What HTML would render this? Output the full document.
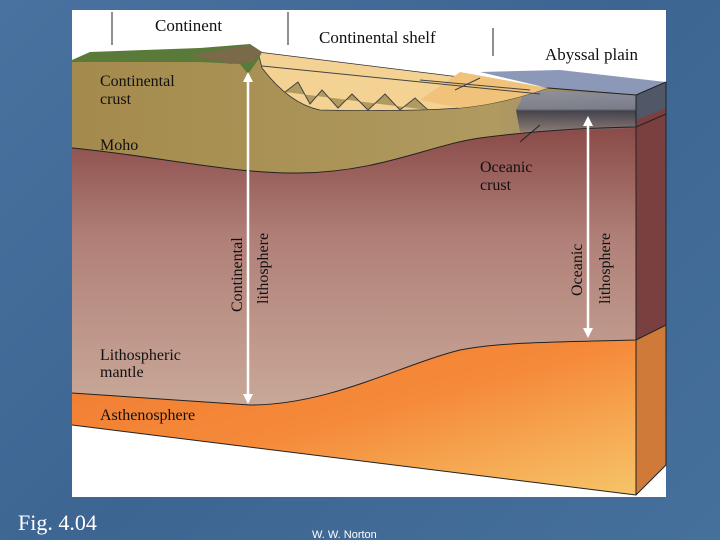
<!DOCTYPE html>
<html><head><style>
html,body{margin:0;padding:0;}
body{width:720px;height:540px;overflow:hidden;background:linear-gradient(135deg,#4a72a0,#3d6592 50%,#46709c);font-family:"Liberation Serif",serif;}
</style></head><body>
<svg width="720" height="540" viewBox="0 0 720 540" xmlns="http://www.w3.org/2000/svg" style="position:absolute;left:0;top:0">
<defs>
<linearGradient id="ast" x1="0" y1="0" x2="1" y2="1">
<stop offset="0" stop-color="#f07a30"/><stop offset="0.5" stop-color="#f58a3a"/><stop offset="1" stop-color="#f6c468"/></linearGradient>
<linearGradient id="man" x1="0" y1="0" x2="0" y2="1">
<stop offset="0" stop-color="#8a4a48"/><stop offset="0.4" stop-color="#b08078"/><stop offset="1" stop-color="#c9a898"/></linearGradient>
<linearGradient id="crust" x1="0" y1="0" x2="1" y2="0">
<stop offset="0" stop-color="#a48a4c"/><stop offset="0.75" stop-color="#b09a60"/><stop offset="0.82" stop-color="#a89468"/><stop offset="1" stop-color="#7a7470"/></linearGradient>
<linearGradient id="oc" x1="0" y1="0" x2="0" y2="1">
<stop offset="0" stop-color="#8c90a0"/><stop offset="0.45" stop-color="#7a7e8c"/><stop offset="0.5" stop-color="#3c3c48"/><stop offset="1" stop-color="#8a7a78"/></linearGradient>
</defs>
<rect x="72" y="10" width="594" height="487" fill="#fff"/>
<!-- right face -->
<polygon points="636,95 666,82 666,325 636,340" fill="#7a4040"/>
<polygon points="636,340 666,325 666,465 636,495" fill="#d07a3a"/>
<polygon points="636,95 666,82 666,108 636,120" fill="#505868"/>
<!-- ocean top -->
<polygon points="480,72 548,88 636,95 666,82 560,70" fill="#8c98b8"/>
<!-- mantle -->
<path d="M72,148 C150,155 230,174 300,173 C380,172 430,145 480,138 C540,130 590,128 636,127 L636,340 C560,342 500,342 460,350 C400,365 330,405 250,405 L72,393 Z" fill="url(#man)"/>
<!-- crust -->
<path d="M72,60 L258,52 L548,88 L636,95 L636,127 C590,128 540,130 480,138 C430,145 380,172 300,173 C230,174 150,155 72,148 Z" fill="url(#crust)"/>
<!-- oceanic crust -->
<polygon points="526,90 636,95 636,128 520,132 516,110" fill="url(#oc)" opacity="0.9"/>
<!-- shelf sediments -->
<path d="M258,52 L548,88 C530,94 500,104 460,108 C420,111 360,111 320,110 C295,105 275,85 262,68 Z" fill="#f3d294" stroke="#333" stroke-width="0.8"/>
<path d="M460,72 L548,88 C530,94 500,104 460,108 L420,100 L440,86 Z" fill="#f0c27a"/>
<polyline points="285,92 298,82 310,104 322,90 338,108 352,94 368,110 385,94 400,110 415,98 428,110" fill="#b09a60" stroke="#444" stroke-width="1"/>
<g stroke="#444" stroke-width="1" fill="none">
<line x1="262" y1="66" x2="540" y2="94"/>
<line x1="420" y1="80" x2="530" y2="90"/>
<line x1="480" y1="78" x2="455" y2="90"/>
</g>
<!-- land -->
<path d="M72,60 L90,52 L200,48 L250,44 L262,52 L258,60 L248,74 L240,64 L200,62 L72,62 Z" fill="#5a7a3a"/>
<path d="M190,55 L250,45 L262,52 L252,62 L230,64 Z" fill="#7a6a4a"/>
<!-- asthenosphere -->
<path d="M72,393 L250,405 C330,405 400,365 460,350 C500,342 560,342 636,340 L636,495 L72,425 Z" fill="url(#ast)"/>
<!-- outlines -->
<g fill="none" stroke="#222" stroke-width="1">
<path d="M72,148 C150,155 230,174 300,173 C380,172 430,145 480,138 C540,130 590,128 636,127 L666,114"/>
<path d="M72,393 L250,405 C330,405 400,365 460,350 C500,342 560,342 636,340 L666,325"/>
<path d="M72,425 L636,495 L666,465 L666,82 M636,95 L636,495 M636,95 L666,82 M548,88 L636,95"/>
<line x1="112" y1="12" x2="112" y2="45"/><line x1="288" y1="12" x2="288" y2="45"/><line x1="493" y1="28" x2="493" y2="56"/>
<line x1="520" y1="142" x2="540" y2="125"/>
</g>
<!-- arrows -->
<g stroke="#fff" stroke-width="2.5" fill="#fff">
<line x1="248" y1="80" x2="248" y2="396"/>
<polygon points="248,72 243,82 253,82" stroke="none"/><polygon points="248,404 243,394 253,394" stroke="none"/>
<line x1="588" y1="124" x2="588" y2="330"/>
<polygon points="588,116 583,126 593,126" stroke="none"/><polygon points="588,338 583,328 593,328" stroke="none"/>
</g>
<g font-family="'Liberation Serif',serif" fill="#111" font-size="17">
<text x="155" y="31">Continent</text>
<text x="319" y="43">Continental shelf</text>
<text x="545" y="60">Abyssal plain</text>
<text x="100" y="86" font-size="16">Continental</text>
<text x="100" y="104" font-size="16">crust</text>
<text x="100" y="150" font-size="16">Moho</text>
<text x="480" y="172" font-size="16">Oceanic</text>
<text x="480" y="190" font-size="16">crust</text>
<text x="100" y="360" font-size="16">Lithospheric</text>
<text x="100" y="377" font-size="16">mantle</text>
<text x="100" y="420" font-size="16">Asthenosphere</text>
<text transform="translate(242,312) rotate(-90)" font-size="16">Continental</text>
<text transform="translate(268,304) rotate(-90)" font-size="16">lithosphere</text>
<text transform="translate(582,296) rotate(-90)" font-size="16">Oceanic</text>
<text transform="translate(610,304) rotate(-90)" font-size="16">lithosphere</text>
</g>
<text x="18" y="530" fill="#fff" font-size="22" font-family="'Liberation Serif',serif">Fig. 4.04</text>
<text x="312" y="538" fill="#fff" font-size="11" font-family="'Liberation Sans',sans-serif">W. W. Norton</text>
</svg>
</body></html>
